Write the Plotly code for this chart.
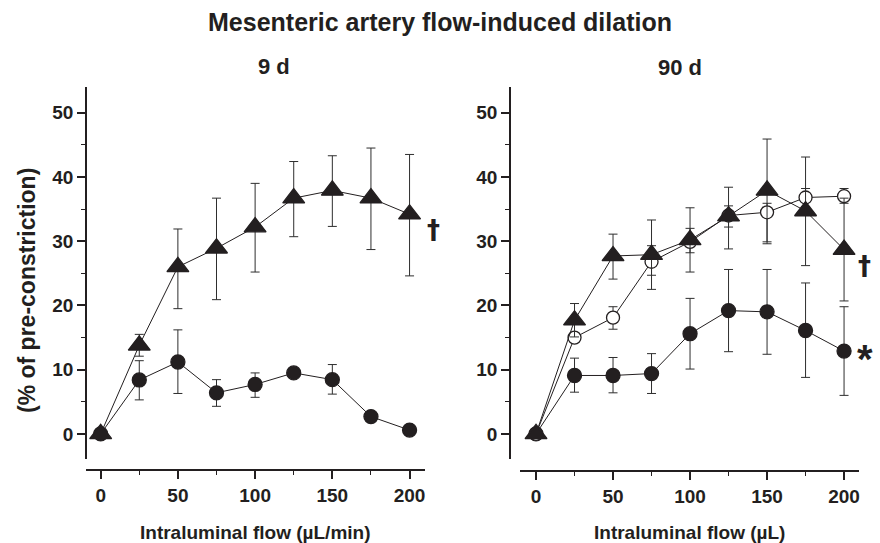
import plotly.graph_objects as go

W, H = 880, 543

flow = [0, 25, 50, 75, 100, 125, 150, 175, 200]
x_ticks = [0, 50, 100, 150, 200]
y_ticks = [0, 10, 20, 30, 40, 50]

# ---- 9 d panel ----
d9_tri = [0, 13.8, 26.0, 28.9, 32.2, 36.7, 37.9, 36.7, 34.2]
d9_tri_hi = [0, 15.5, 31.9, 36.7, 39.0, 42.4, 43.3, 44.5, 43.5]
d9_tri_lo = [0, 12.1, 19.5, 20.9, 25.2, 30.7, 32.3, 28.7, 24.6]
d9_circ = [0, 8.4, 11.2, 6.4, 7.7, 9.5, 8.45, 2.7, 0.6]
d9_circ_hi = [0, 11.4, 16.2, 8.45, 9.5, 9.5, 10.8, 2.7, 0.6]
d9_circ_lo = [0, 5.3, 6.3, 4.3, 5.7, 9.5, 6.2, 2.7, 0.6]

# ---- 90 d panel ----
d90_tri = [0, 17.7, 27.7, 27.9, 30.2, 33.9, 37.9, 34.7, 28.7]
d90_tri_hi = [0, 20.3, 31.1, 33.3, 35.2, 38.4, 45.9, 43.1, 36.7]
d90_tri_lo = [0, 15.1, 24.1, 24.7, 25.2, 28.8, 29.9, 26.2, 20.7]
d90_open = [0, 15.0, 18.1, 26.8, 29.9, 34.0, 34.5, 36.8, 37.0]
d90_open_hi = [0, 15.6, 19.8, 29.3, 32.0, 35.5, 35.9, 38.2, 38.2]
d90_open_lo = [0, 14.4, 16.3, 22.5, 28.2, 32.2, 29.6, 35.4, 35.9]
d90_circ = [0, 9.1, 9.1, 9.4, 15.6, 19.2, 19.0, 16.1, 12.9]
d90_circ_hi = [0, 11.8, 11.9, 12.5, 21.1, 25.6, 25.6, 23.5, 19.8]
d90_circ_lo = [0, 6.5, 6.4, 6.3, 10.1, 12.8, 12.4, 8.8, 6.0]

INK = "#231f20"
ERR = "#2e2e2e"
FONT = "Liberation Sans"


def err(vals, hi, lo):
    return dict(type="data", symmetric=False,
                array=[h - v for h, v in zip(hi, vals)],
                arrayminus=[v - l for v, l in zip(vals, lo)],
                color=ERR, thickness=1, width=4.5)


def trace(xa, ya, vals, hi, lo, symbol, size, fill):
    return go.Scatter(
        x=flow, y=vals, xaxis=xa, yaxis=ya, mode="lines+markers",
        line=dict(color=INK, width=1),
        marker=dict(symbol=symbol, size=size, color=fill,
                    line=dict(color=INK, width=1.3)),
        error_y=err(vals, hi, lo), showlegend=False, cliponaxis=False)


fig = go.Figure()
fig.add_trace(trace("x", "y", d9_circ, d9_circ_hi, d9_circ_lo, "circle", 14, INK))
fig.add_trace(trace("x", "y", d9_tri, d9_tri_hi, d9_tri_lo, "triangle-up", 19, INK))
fig.add_trace(trace("x2", "y2", d90_circ, d90_circ_hi, d90_circ_lo, "circle", 14, INK))
fig.add_trace(trace("x2", "y2", d90_open, d90_open_hi, d90_open_lo, "circle", 13, "white"))
fig.add_trace(trace("x2", "y2", d90_tri, d90_tri_hi, d90_tri_lo, "triangle-up", 19, INK))


def px(x):
    return x / W


def py(y):
    return 1 - y / H


tickfont = dict(family=FONT, size=19, color=INK, weight="bold")
common_x = dict(showline=True, linewidth=1.5, linecolor=INK, ticks="outside",
                ticklen=8, tickwidth=1.5, tickcolor=INK, tickvals=x_ticks,
                showgrid=False, zeroline=False, tickfont=tickfont,
                minor=dict(ticks="outside", ticklen=4, tickwidth=1.3,
                           tickcolor=INK, dtick=25, tick0=0, showgrid=False),
                anchor="free")
common_y = dict(showline=True, linewidth=1.5, linecolor=INK, ticks="outside",
                ticklen=8, tickwidth=1.5, tickcolor=INK, tickvals=y_ticks,
                showgrid=False, zeroline=False, tickfont=tickfont,
                range=[-3.9, 54], domain=[py(459), py(87)],
                minor=dict(ticks="outside", ticklen=4, tickwidth=1.3,
                           tickcolor=INK, dtick=5, tick0=0, showgrid=False),
                anchor="free")

fig.update_layout(
    width=W, height=H, margin=dict(l=0, r=0, t=0, b=0),
    paper_bgcolor="white", plot_bgcolor="white",
    font=dict(family=FONT, color=INK),
    xaxis=dict(common_x, domain=[px(86), px(425)], range=[-9.5, 210],
               position=py(470)),
    yaxis=dict(common_y, position=px(86)),
    xaxis2=dict(common_x, domain=[px(520), px(859)], range=[-10.4, 209.7],
                position=py(471)),
    yaxis2=dict(common_y, position=px(510)),
)

bold = dict(family=FONT, color=INK, weight="bold")
dag = dict(family="DejaVu Sans", color=INK, weight="bold")
ann = [
    dict(text="Mesenteric artery flow-induced dilation", x=px(440), y=py(22),
         font=dict(bold, size=25)),
    dict(text="9 d", x=px(274), y=py(66), font=dict(bold, size=22)),
    dict(text="90 d", x=px(680), y=py(67), font=dict(bold, size=22)),
    dict(text="Intraluminal flow (µL/min)", x=px(255), y=py(532),
         font=dict(bold, size=19)),
    dict(text="Intraluminal flow (µL)", x=px(689), y=py(532),
         font=dict(bold, size=19)),
    dict(text="(% of pre-constriction)", x=px(27), y=py(291), textangle=-90,
         font=dict(bold, size=23)),
    dict(text="†", x=px(433), y=py(230), font=dict(dag, size=26)),
    dict(text="†", x=px(864), y=py(266), font=dict(dag, size=26)),
    dict(text="*", x=px(865), y=py(359), font=dict(bold, size=40)),
]
for a in ann:
    fig.add_annotation(xref="paper", yref="paper", showarrow=False,
                       xanchor="center", yanchor="middle", **a)

fig.write_html("out.html")
